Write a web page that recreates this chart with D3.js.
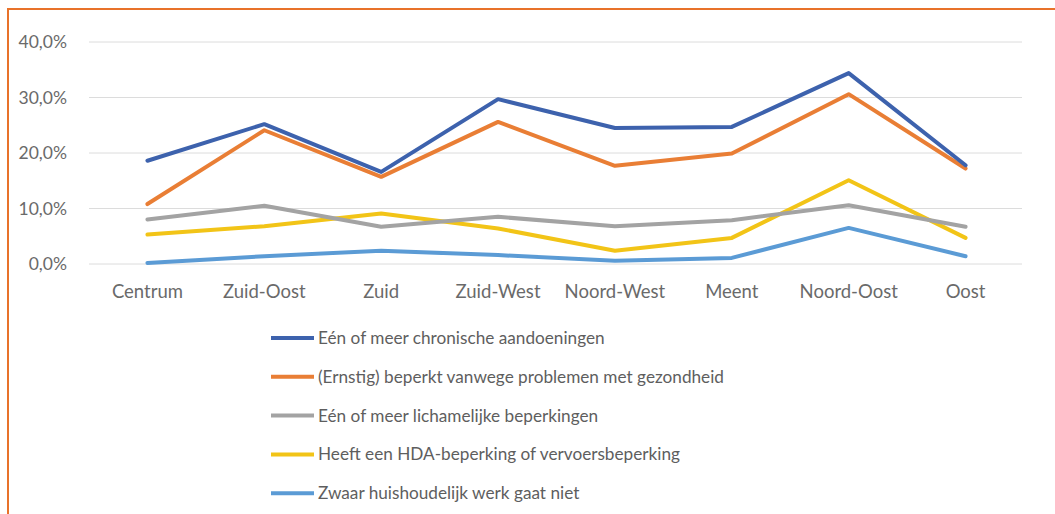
<!DOCTYPE html>
<html>
<head>
<meta charset="utf-8">
<script src="https://cdn.jsdelivr.net/npm/d3@7"></script>
<style>
  body { margin: 0; background: #fff; }
  svg { display: block; font-family: Lato, "Open Sans", sans-serif; }
  .grid line { stroke: #dcdcdc; stroke-width: 1; }
  .ticklabel { fill: #6a6a6a; font-size: 17.5px; }
  .xlab { font-size: 18.5px; }
  .legendlabel { fill: #5e5e5e; font-size: 17.2px; }
  .serie { fill: none; stroke-width: 4; stroke-linejoin: round; stroke-linecap: round; }
</style>
</head>
<body>
<div id="vis"></div>
<script>
// wijken (categories)
var wijken = ["Centrum", "Zuid-Oost", "Zuid", "Zuid-West", "Noord-West", "Meent", "Noord-Oost", "Oost"];

// series, in %
var chronisch   = [18.6, 25.2, 16.6, 29.7, 24.5, 24.7, 34.4, 17.8];
var beperkt     = [10.8, 24.1, 15.7, 25.6, 17.7, 19.9, 30.6, 17.2];
var lichamelijk = [8.0, 10.5, 6.7, 8.5, 6.8, 7.9, 10.6, 6.7];
var hda         = [5.3, 6.8, 9.1, 6.4, 2.4, 4.7, 15.1, 4.7];
var huishouden  = [0.2, 1.4, 2.4, 1.6, 0.6, 1.1, 6.5, 1.4];

var namen = [
  "Eén of meer chronische aandoeningen",
  "(Ernstig) beperkt vanwege problemen met gezondheid",
  "Eén of meer lichamelijke beperkingen",
  "Heeft een HDA-beperking of vervoersbeperking",
  "Zwaar huishoudelijk werk gaat niet"
];
var yTicks = [0, 10, 20, 30, 40];

var kleuren = ["#3d62ad", "#e97e35", "#a3a3a3", "#f2c417", "#5b9bd5"];
var reeksen = [chronisch, beperkt, lichamelijk, hda, huishouden];

var W = 1055, H = 514;
var svg = d3.select("#vis").append("svg").attr("width", W).attr("height", H);

// orange frame (top + left only visible)
svg.append("line").attr("x1", 7).attr("x2", W).attr("y1", 9).attr("y2", 9)
  .attr("stroke", "#e8722a").attr("stroke-width", 2);
svg.append("line").attr("x1", 8).attr("x2", 8).attr("y1", 8).attr("y2", H)
  .attr("stroke", "#e8722a").attr("stroke-width", 2);

//scales
var x = d3.scaleBand().domain(wijken).range([89, 1024]);
var y = d3.scaleLinear().domain([0, 40]).range([264, 42]);

// gridlines
var grid = svg.append("g").attr("class", "grid");
grid.selectAll("line").data(yTicks).enter().append("line")
  .attr("x1", 89).attr("x2", 1022)
  .attr("y1", function(d) { return y(d); })
  .attr("y2", function(d) { return y(d); });

// y labels
svg.selectAll("text.ylab").data(yTicks).enter().append("text")
  .attr("class", "ticklabel ylab")
  .attr("x", 67)
  .attr("y", function(d) { return y(d); })
  .attr("dy", "0.35em")
  .attr("text-anchor", "end")
  .text(function(d) { return d3.format(".1f")(d).replace(".", ",") + "%"; });

// x labels
svg.selectAll("text.xlab").data(wijken).enter().append("text")
  .attr("class", "ticklabel xlab")
  .attr("x", function(d) { return x(d) + x.bandwidth() / 2; })
  .attr("y", 298)
  .attr("text-anchor", "middle")
  .text(function(d) { return d; });

var line = d3.line()
  .x(function(d, i) { return x(wijken[i]) + x.bandwidth() / 2; })
  .y(function(d) { return y(d); });

// draw bottom series first so the top ones sit on top
for (var k = reeksen.length - 1; k >= 0; k--) {
  svg.append("path")
    .datum(reeksen[k])
    .attr("class", "serie")
    .attr("stroke", kleuren[k])
    .attr("d", line);
}

// legend
var legend = svg.selectAll("g.legend").data(namen).enter().append("g")
  .attr("class", "legend")
  .attr("transform", function(d, i) { return "translate(271," + (338 + i * 38.8) + ")"; });

legend.append("line")
  .attr("x1", 0).attr("x2", 43)
  .attr("stroke", function(d, i) { return kleuren[i]; })
  .attr("stroke-width", 4);

legend.append("text")
  .attr("class", "legendlabel")
  .attr("x", 47)
  .attr("dy", "0.35em")
  .text(function(d) { return d; });
</script>
</body>
</html>
